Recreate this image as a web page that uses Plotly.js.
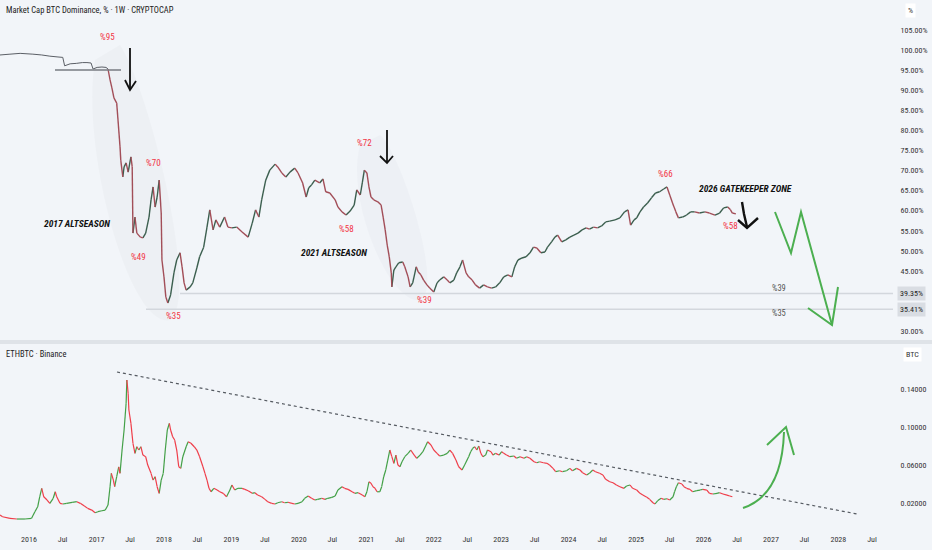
<!DOCTYPE html>
<html><head><meta charset="utf-8">
<script src="https://cdn.plot.ly/plotly-3.0.1.min.js"></script>
<style>html,body{margin:0;padding:0;background:#f2f5f9}#chart{width:932px;height:550px}</style>
</head><body><div id="chart"></div><script>
// ---- BTC dominance (%), weekly (decimal years) ----
const btcdYears = [2015.57,2015.72,2015.87,2016.06,2016.19,2016.31,2016.43,2016.50,2016.53,2016.61,2016.70,2016.79,2016.86,2016.92,2016.95,2017.01,2017.08,2017.14,2017.17,
2017.20,2017.23,2017.26,2017.30,2017.32,2017.35,2017.36,2017.39,2017.41,2017.44,2017.47,2017.51,2017.53,2017.54,2017.57,2017.60,2017.65,2017.69,2017.73,2017.78,2017.81,2017.84,2017.87,2017.90,2017.93,2017.96,2017.97,
2018.00,2018.03,2018.06,2018.10,2018.15,2018.19,2018.24,2018.27,2018.30,2018.33,2018.39,2018.43,2018.49,2018.53,2018.59,2018.64,2018.68,2018.73,2018.77,2018.83,2018.90,2018.95,
2019.01,2019.08,2019.16,2019.25,2019.31,2019.36,2019.41,2019.45,2019.51,2019.57,2019.65,2019.69,2019.75,2019.81,2019.87,2019.94,2019.99,
2020.06,2020.11,2020.15,2020.19,2020.24,2020.31,2020.36,2020.40,2020.46,2020.54,2020.58,2020.64,2020.70,2020.76,2020.82,2020.86,2020.91,2020.94,2020.97,
2021.01,2021.04,2021.07,2021.11,2021.17,2021.22,2021.25,2021.28,2021.31,2021.34,2021.37,2021.38,2021.41,2021.44,2021.48,2021.54,2021.57,2021.62,2021.65,2021.69,2021.74,2021.77,2021.81,2021.85,2021.90,2021.94,
2022.00,2022.05,2022.09,2022.15,2022.20,2022.24,2022.30,2022.34,2022.39,2022.43,2022.48,2022.52,2022.57,2022.62,2022.68,2022.74,2022.80,2022.86,2022.92,2022.98,
2023.04,2023.10,2023.16,2023.20,2023.25,2023.31,2023.37,2023.43,2023.48,2023.53,2023.59,2023.65,2023.69,2023.75,2023.80,2023.84,2023.90,2023.96,
2024.02,2024.08,2024.14,2024.20,2024.26,2024.31,2024.37,2024.43,2024.49,2024.55,2024.61,2024.69,2024.76,2024.83,2024.88,2024.92,2024.97,
2025.01,2025.06,2025.11,2025.17,2025.23,2025.29,2025.35,2025.41,2025.46,2025.50,2025.54,2025.59,2025.63,2025.69,2025.75,2025.81,2025.87,2025.94,
2026.02,2026.09,2026.17,2026.24,2026.30,2026.36,2026.40,2026.43,2026.48];
const btcdValues = [98.8,99.0,99.2,99.0,98.8,98.5,98.3,98.2,96.1,96.6,96.7,96.9,96.9,96.8,95.3,95.7,95.8,95.7,95.3,
92.6,90.6,88.1,86.8,82.6,75.9,72.6,68.4,70.9,71.9,69.6,73.4,70.9,54.4,58.4,54.4,53.4,53.2,54.4,58.4,62.7,65.9,60.9,63.4,67.6,59.4,47.7,
43.5,38.5,37.0,39.0,44.5,47.7,49.5,46.0,42.0,40.2,41.0,42.0,45.7,48.5,50.9,55.9,60.2,55.2,57.7,55.9,58.4,55.9,
55.7,55.9,54.7,53.4,56.9,60.2,58.4,62.7,67.6,70.1,71.6,70.9,69.4,68.4,69.6,70.6,69.4,
66.9,63.4,65.7,66.4,67.6,66.9,67.9,64.7,64.4,62.7,60.9,59.7,58.9,59.9,61.4,65.2,63.9,66.9,70.1,
69.4,65.9,63.4,62.7,62.2,61.4,58.4,55.2,51.4,48.5,44.5,41.0,45.2,46.0,47.0,47.2,46.0,43.5,41.0,42.0,46.0,44.7,44.0,42.7,41.5,40.7,
39.7,42.0,42.7,43.5,42.7,42.0,42.7,44.5,46.0,47.7,44.5,43.5,42.7,41.5,40.7,41.5,41.0,40.7,41.0,42.0,
43.5,44.0,43.5,46.0,47.7,48.2,48.5,49.5,50.9,50.7,49.5,49.7,50.9,52.2,53.4,53.9,52.2,52.7,
53.4,53.9,54.4,55.2,55.7,55.4,55.9,55.7,56.2,57.2,57.4,57.7,58.2,59.7,60.2,56.4,57.7,
58.2,59.7,60.9,61.9,63.2,64.4,64.7,65.4,65.9,63.9,61.9,59.7,58.2,58.4,58.9,59.7,59.7,59.4,
59.7,59.4,58.9,59.4,60.7,60.9,60.2,59.4,59.2];
const btcdLineEnd = 2017.17; // before this the series is drawn as a plain line

// ---- ETHBTC (BTC), weekly ----
const ethbtcYears = [2015.57,2015.61,2015.72,2015.82,2015.94,2016.04,2016.09,2016.13,2016.16,2016.19,2016.22,2016.27,2016.31,2016.36,2016.39,2016.41,2016.46,2016.50,2016.56,2016.64,2016.71,2016.76,2016.82,2016.87,2016.93,2016.98,
2017.02,2017.08,2017.13,2017.17,2017.20,2017.22,2017.25,2017.27,2017.30,2017.33,2017.35,2017.38,2017.41,2017.44,2017.45,2017.47,2017.48,2017.51,2017.54,2017.57,2017.60,2017.63,2017.66,2017.69,2017.73,2017.76,2017.81,2017.84,2017.87,2017.90,2017.93,2017.96,2017.99,
2018.02,2018.05,2018.08,2018.10,2018.13,2018.16,2018.19,2018.22,2018.25,2018.28,2018.33,2018.36,2018.40,2018.45,2018.49,2018.53,2018.58,2018.61,2018.64,2018.67,2018.70,2018.74,2018.79,2018.83,2018.88,2018.93,2018.98,
2019.01,2019.05,2019.10,2019.16,2019.20,2019.25,2019.31,2019.35,2019.39,2019.45,2019.50,2019.54,2019.60,2019.65,2019.69,2019.75,2019.79,2019.84,2019.90,2019.94,2019.99,
2020.05,2020.09,2020.14,2020.19,2020.24,2020.28,2020.34,2020.39,2020.43,2020.49,2020.54,2020.58,2020.64,2020.68,2020.73,2020.79,2020.83,2020.88,2020.94,2020.98,
2021.01,2021.04,2021.07,2021.10,2021.13,2021.16,2021.20,2021.23,2021.26,2021.29,2021.32,2021.35,2021.38,2021.41,2021.44,2021.47,2021.50,2021.53,2021.57,2021.62,2021.66,2021.71,2021.75,2021.80,2021.84,2021.88,2021.91,2021.96,
2022.00,2022.05,2022.09,2022.15,2022.20,2022.24,2022.28,2022.33,2022.37,2022.42,2022.46,2022.52,2022.55,2022.58,2022.61,2022.64,2022.67,2022.70,2022.73,2022.77,2022.80,2022.85,2022.88,2022.92,2022.97,
2023.01,2023.04,2023.08,2023.13,2023.19,2023.23,2023.28,2023.34,2023.38,2023.43,2023.49,2023.53,2023.57,2023.63,2023.68,2023.72,2023.77,2023.81,2023.87,2023.91,2023.97,
2024.02,2024.06,2024.12,2024.17,2024.21,2024.27,2024.31,2024.36,2024.40,2024.46,2024.51,2024.55,2024.61,2024.66,2024.71,2024.76,2024.82,2024.86,2024.91,2024.95,
2025.01,2025.06,2025.10,2025.16,2025.20,2025.25,2025.28,2025.32,2025.37,2025.41,2025.46,2025.50,2025.55,2025.57,2025.60,2025.63,2025.68,2025.71,2025.75,2025.80,2025.84,2025.90,2025.95,2025.99,
2026.05,2026.09,2026.14,2026.20,2026.24,2026.29,2026.35,2026.39,2026.43];
const ethbtcValues = [0.0077,0.0059,0.0042,0.0035,0.0035,0.0042,0.0112,0.0164,0.0269,0.0358,0.0269,0.0235,0.0200,0.0253,0.0322,0.0269,0.0200,0.0193,0.0200,0.0211,0.0217,0.0200,0.0172,0.0147,0.0129,0.0101,
0.0112,0.0122,0.0129,0.0182,0.0375,0.0516,0.0445,0.0375,0.0480,0.0585,0.0516,0.0761,0.0972,0.1253,0.1498,0.1358,0.1182,0.1042,0.0832,0.0726,0.0796,0.0761,0.0796,0.0708,0.0691,0.0603,0.0516,0.0445,0.0480,0.0375,0.0305,0.0445,0.0516,
0.0761,0.0972,0.1042,0.0972,0.0901,0.0866,0.0761,0.0585,0.0568,0.0691,0.0796,0.0848,0.0832,0.0796,0.0761,0.0691,0.0585,0.0516,0.0445,0.0358,0.0322,0.0358,0.0340,0.0322,0.0305,0.0269,0.0340,
0.0393,0.0340,0.0358,0.0358,0.0347,0.0333,0.0305,0.0312,0.0287,0.0269,0.0242,0.0217,0.0200,0.0193,0.0206,0.0217,0.0206,0.0211,0.0200,0.0193,0.0200,
0.0217,0.0253,0.0277,0.0253,0.0235,0.0242,0.0253,0.0242,0.0253,0.0263,0.0277,0.0340,0.0375,0.0358,0.0347,0.0322,0.0305,0.0312,0.0287,0.0269,
0.0322,0.0427,0.0411,0.0375,0.0358,0.0322,0.0322,0.0375,0.0480,0.0551,0.0656,0.0761,0.0691,0.0621,0.0708,0.0603,0.0585,0.0638,0.0691,0.0726,0.0761,0.0708,0.0674,0.0708,0.0743,0.0803,0.0848,0.0814,
0.0761,0.0726,0.0698,0.0708,0.0726,0.0761,0.0726,0.0656,0.0585,0.0551,0.0603,0.0691,0.0743,0.0779,0.0796,0.0761,0.0803,0.0726,0.0691,0.0708,0.0761,0.0743,0.0708,0.0726,0.0708,
0.0743,0.0726,0.0708,0.0691,0.0698,0.0674,0.0691,0.0674,0.0691,0.0674,0.0638,0.0627,0.0638,0.0627,0.0621,0.0603,0.0568,0.0533,0.0543,0.0533,0.0543,
0.0568,0.0543,0.0568,0.0551,0.0522,0.0498,0.0516,0.0551,0.0533,0.0516,0.0498,0.0453,0.0427,0.0417,0.0393,0.0375,0.0358,0.0382,0.0393,0.0358,
0.0340,0.0305,0.0287,0.0263,0.0242,0.0206,0.0193,0.0227,0.0253,0.0242,0.0248,0.0235,0.0269,0.0322,0.0375,0.0417,0.0403,0.0375,0.0358,0.0347,0.0322,0.0333,0.0340,0.0347,
0.0340,0.0305,0.0298,0.0305,0.0312,0.0298,0.0287,0.0277,0.0269];

// ---- axes ----
const xTickDates = ['2016-01-01','2016-07-01','2017-01-01','2017-07-01','2018-01-01','2018-07-01','2019-01-01','2019-07-01','2020-01-01','2020-07-01','2021-01-01','2021-07-01','2022-01-01','2022-07-01','2023-01-01','2023-07-01','2024-01-01','2024-07-01','2025-01-01','2025-07-01','2026-01-01','2026-07-01','2027-01-01','2027-07-01','2028-01-01','2028-07-01'];
const xTickLabels = ['2016','Jul','2017','Jul','2018','Jul','2019','Jul','2020','Jul','2021','Jul','2022','Jul','2023','Jul','2024','Jul','2025','Jul','2026','Jul','2027','Jul','2028','Jul'];
const domTickVals = [30,45,50,55,60,65,70,75,80,85,90,95,100,105];
const ethTickVals = [0.02,0.06,0.10,0.14];
const levelVals = [39.35,35.41];
const levelTexts = ['%39','%35'];

function yd(y){const Y=Math.floor(y);const s=Date.UTC(Y,0,1),e=Date.UTC(Y+1,0,1);return new Date(s+(y-Y)*(e-s)).toISOString().slice(0,10);}
function segs(xs,ys,filt){const up={x:[],y:[]},dn={x:[],y:[]},ln={x:[],y:[]};
  for(let i=1;i<xs.length;i++){let t;
    if(filt && xs[i]<=filt) t=ln; else t=(ys[i]>=ys[i-1])?up:dn;
    t.x.push(yd(xs[i-1]),yd(xs[i]),null); t.y.push(ys[i-1],ys[i],null);}
  return {up,dn,ln};}

const W=893,H=525;
const px=x=>x/W, py=y=>(H-y)/H;
const FONT='Liberation Sans Narrow, Roboto Condensed, Roboto, sans-serif';

const b=segs(btcdYears,btcdValues,btcdLineEnd);
const e=segs(ethbtcYears,ethbtcValues,null);
const traces=[
 {x:b.ln.x,y:b.ln.y,mode:'lines',line:{color:'#5b5f66',width:1},yaxis:'y',hoverinfo:'skip'},
 {x:b.up.x,y:b.up.y,mode:'lines',line:{color:'#3c5f4f',width:1.4},yaxis:'y',hoverinfo:'skip'},
 {x:b.dn.x,y:b.dn.y,mode:'lines',line:{color:'#a24e58',width:1.4},yaxis:'y',hoverinfo:'skip'},
 {x:e.up.x,y:e.up.y,mode:'lines',line:{color:'#43a047',width:1.2},yaxis:'y2',hoverinfo:'skip'},
 {x:e.dn.x,y:e.dn.y,mode:'lines',line:{color:'#ef3e4a',width:1.2},yaxis:'y2',hoverinfo:'skip'}
];

function P(pts){return 'M'+pts.map(p=>px(p[0]).toFixed(5)+','+py(p[1]).toFixed(5)).join(' L');}
const shapes=[
 {type:'rect',xref:'paper',yref:'paper',x0:0,x1:932/W,y0:py(344),y1:py(340),fillcolor:'#dfe3e8',line:{width:0},layer:'below'},
 {type:'path',xref:'paper',yref:'paper',path:'M'+px(95)+','+py(60)+' C'+px(80)+','+py(150)+' '+px(130)+','+py(330)+' '+px(170)+','+py(320)+' C'+px(200)+','+py(300)+' '+px(150)+','+py(90)+' '+px(120)+','+py(45)+' Z',fillcolor:'rgba(120,125,135,0.04)',line:{width:0},layer:'below'},
 {type:'path',xref:'paper',yref:'paper',path:'M'+px(360)+','+py(145)+' C'+px(345)+','+py(200)+' '+px(390)+','+py(305)+' '+px(420)+','+py(300)+' C'+px(445)+','+py(290)+' '+px(400)+','+py(150)+' '+px(380)+','+py(135)+' Z',fillcolor:'rgba(120,125,135,0.035)',line:{width:0},layer:'below'},
 {type:'line',xref:'paper',yref:'paper',x0:px(55),x1:px(121),y0:py(70),y1:py(70),line:{color:'#777b82',width:1.6}},
 {type:'line',xref:'paper',yref:'y',x0:px(180),x1:1,y0:levelVals[0],y1:levelVals[0],line:{color:'#d3d7dd',width:1.5},layer:'below'},
 {type:'line',xref:'paper',yref:'y',x0:px(146),x1:1,y0:levelVals[1],y1:levelVals[1],line:{color:'#d3d7dd',width:1.5},layer:'below'},
 {type:'path',xref:'paper',yref:'paper',path:P([[130,48],[130,90]]),line:{color:'#111',width:1.8}},
 {type:'path',xref:'paper',yref:'paper',path:P([[125,80],[130,90],[136,81]]),line:{color:'#111',width:1.8}},
 {type:'path',xref:'paper',yref:'paper',path:P([[387,130],[387,163]]),line:{color:'#111',width:1.8}},
 {type:'path',xref:'paper',yref:'paper',path:P([[380,156],[387,163],[393,156]]),line:{color:'#111',width:1.8}},
 {type:'path',xref:'paper',yref:'paper',path:P([[742,202],[744,214],[747,227]]),line:{color:'#111',width:2.4}},
 {type:'path',xref:'paper',yref:'paper',path:P([[738,220],[747,228],[758,218]]),line:{color:'#111',width:2.4}},
 {type:'path',xref:'paper',yref:'paper',path:P([[775,212],[791,253],[801,212],[832,325]]),line:{color:'#4caf50',width:2}},
 {type:'path',xref:'paper',yref:'paper',path:P([[808,308],[832,325],[838,287]]),line:{color:'#4caf50',width:2}},
 {type:'line',xref:'paper',yref:'paper',x0:px(117),y0:py(372),x1:px(857),y1:py(514),line:{color:'#555a61',width:1.2,dash:'dot'}},
 {type:'path',xref:'paper',yref:'paper',path:'M'+px(743)+','+py(508)+' Q'+px(782)+','+py(495)+' '+px(784)+','+py(432),line:{color:'#4caf50',width:2}},
 {type:'path',xref:'paper',yref:'paper',path:P([[767,445],[786,427],[794,455]]),line:{color:'#4caf50',width:2}}
];

function T(text,x,y,o){return Object.assign({text:text,xref:'paper',yref:'paper',x:px(x),y:py(y),showarrow:false,xanchor:'center',yanchor:'middle',font:{family:FONT,size:9,color:'#f23645'}},o||{});}
const BI={font:{family:FONT,size:9.5,color:'#111',weight:'bold',style:'italic'}};
const annotations=[
 T('Market Cap BTC Dominance, % · 1W · CRYPTOCAP',4,10,{xanchor:'left',font:{family:FONT,size:8.5,color:'#222'}}),
 T('ETHBTC · Binance',4,354,{xanchor:'left',font:{family:FONT,size:8.5,color:'#222'}}),
 T('%',905,10,{xanchor:'left',bgcolor:'#ffffff',borderpad:2,font:{family:FONT,size:8,color:'#333'}}),
 T('BTC',903,354,{xanchor:'left',bgcolor:'#ffffff',borderpad:2,font:{family:FONT,size:8,color:'#333'}}),
 T('%95',107,37),T('%70',153,163),T('%49',138,257),T('%35',173,316),
 T('%72',364,143),T('%58',346,229),T('%39',424,300),T('%66',665,174),T('%58',730,226),
 T('2017 ALTSEASON',77,224,BI),T('2021 ALTSEASON',334,252,BI),T('2026 GATEKEEPER ZONE',745,188,BI),
 T(levelTexts[0],779,288,{font:{family:FONT,size:8.5,color:'#555'}}),
 T(levelTexts[1],779,313,{font:{family:FONT,size:8.5,color:'#555'}}),
 {text:levelVals[0].toFixed(2)+'%',xref:'paper',yref:'y',x:1,y:levelVals[0],xanchor:'left',xshift:4,showarrow:false,bgcolor:'#d9dde3',borderpad:2,font:{family:FONT,size:8,color:'#222'}},
 {text:levelVals[1].toFixed(2)+'%',xref:'paper',yref:'y',x:1,y:levelVals[1],xanchor:'left',xshift:4,showarrow:false,bgcolor:'#d9dde3',borderpad:2,font:{family:FONT,size:8,color:'#222'}}
];

const layout={
 width:932,height:550,margin:{l:0,r:39,t:0,b:25},
 paper_bgcolor:'#f2f5f9',plot_bgcolor:'#f2f5f9',showlegend:false,
 font:{family:FONT,size:8,color:'#333'},
 xaxis:{type:'date',range:[yd(2015.57),yd(2028.81)],anchor:'y2',tickvals:xTickDates,ticktext:xTickLabels,showgrid:false,zeroline:false,showline:false,ticks:'outside',ticklen:6,tickcolor:'rgba(0,0,0,0)',tickfont:{family:FONT,size:8,color:'#333'},fixedrange:true},
 yaxis:{domain:[py(340),1],range:[27.76,112.5],side:'right',anchor:'x',tickvals:domTickVals,ticktext:domTickVals.map(v=>v.toFixed(2)+'%'),showgrid:false,zeroline:false,ticks:'outside',ticklen:5,tickcolor:'rgba(0,0,0,0)',tickfont:{family:FONT,size:8,color:'#333'}},
 yaxis2:{domain:[0,py(344)],range:[-0.0028,0.1877],side:'right',anchor:'x',tickvals:ethTickVals,ticktext:ethTickVals.map(v=>v.toFixed(5)),showgrid:false,zeroline:false,ticks:'outside',ticklen:5,tickcolor:'rgba(0,0,0,0)',tickfont:{family:FONT,size:8,color:'#333'}},
 shapes:shapes,annotations:annotations
};
Plotly.newPlot('chart',traces,layout,{staticPlot:true,displayModeBar:false});
</script></body></html>
